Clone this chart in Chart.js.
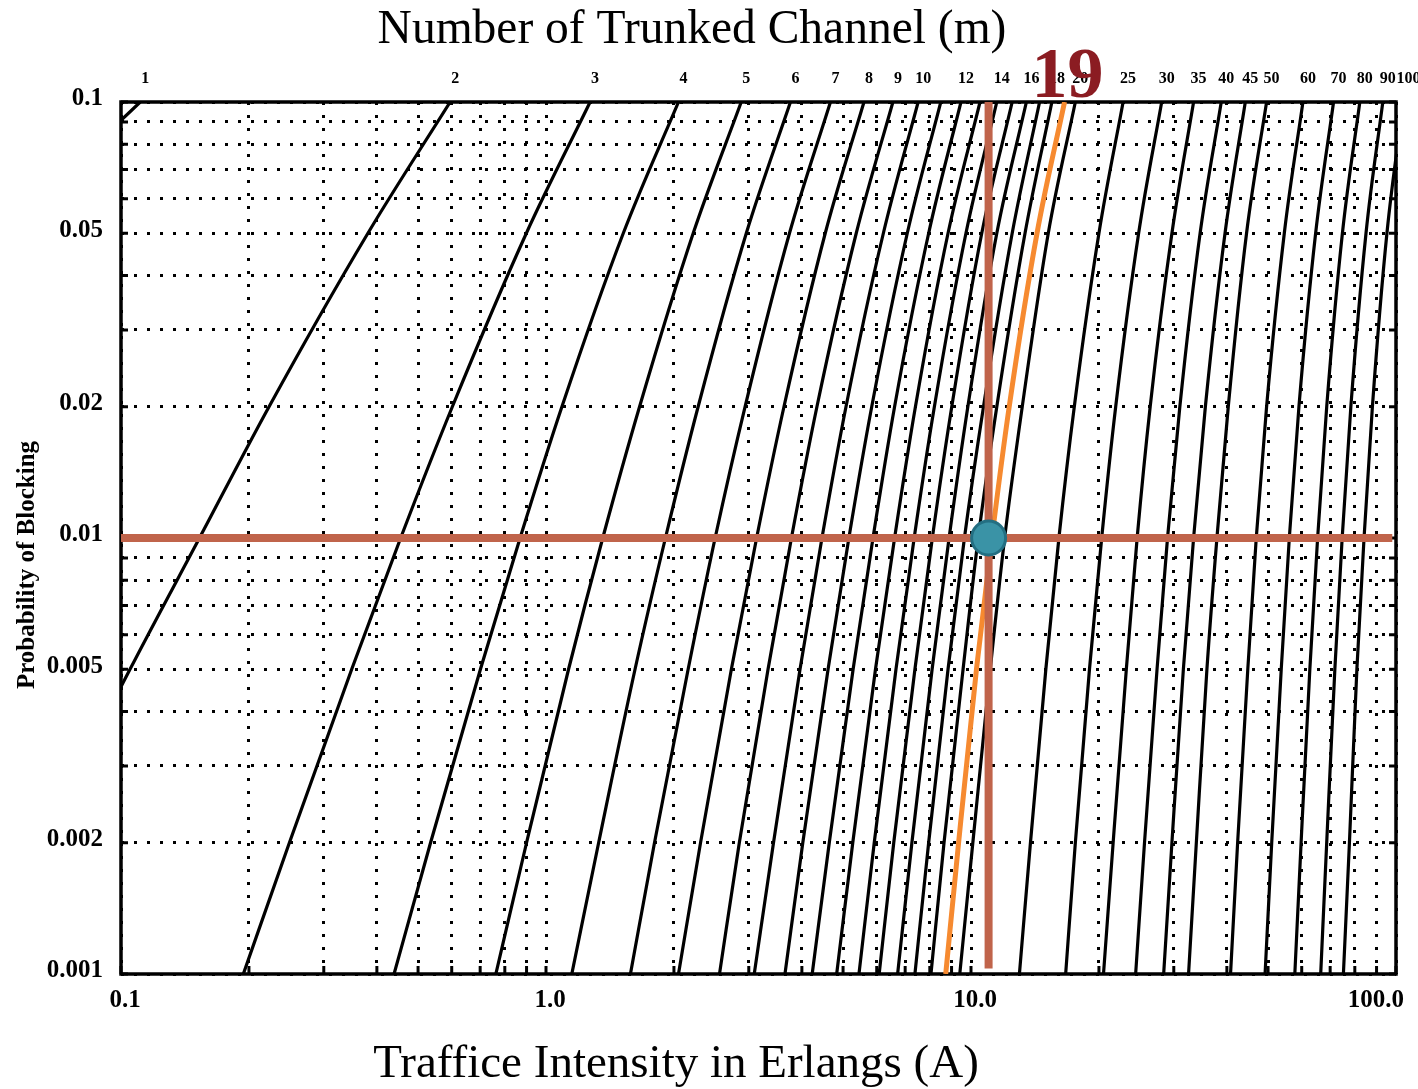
<!DOCTYPE html>
<html>
<head>
<meta charset="utf-8">
<script src="https://cdn.jsdelivr.net/npm/chart.js@4.4.1/dist/chart.umd.min.js"></script>
<style>
    html, body { margin: 0; padding: 0; background: #fff; }
    #wrap { width: 1418px; height: 1089px; }
</style>
</head>
<body>
<div id="wrap"><canvas id="erlang-chart" width="1418" height="1089"></canvas></div>
<script>
// blocking levels where the traffic of every curve was read
const blockLevels = [0.001, 0.002, 0.005, 0.01, 0.02, 0.05, 0.1];
const channels = [1, 2, 3, 4, 5, 6, 7, 8, 9, 10, 11, 12, 13, 14, 15, 16, 17, 18, 19, 20,
    25, 30, 35, 40, 45, 50, 60, 70, 80, 90, 100];
// traffic (erlangs) of each curve at the blockLevels above
const trafficByChannel = [
    [0.001, 0.002, 0.005, 0.0101, 0.0204, 0.0526, 0.111],
    [0.0458, 0.0653, 0.105, 0.153, 0.223, 0.381, 0.595],
    [0.194, 0.249, 0.349, 0.455, 0.602, 0.899, 1.27],
    [0.439, 0.535, 0.701, 0.869, 1.09, 1.52, 2.05],
    [0.762, 0.900, 1.13, 1.36, 1.66, 2.22, 2.88],
    [1.15, 1.33, 1.62, 1.91, 2.28, 2.96, 3.76],
    [1.58, 1.80, 2.16, 2.50, 2.94, 3.74, 4.67],
    [2.05, 2.31, 2.73, 3.13, 3.63, 4.54, 5.60],
    [2.56, 2.85, 3.33, 3.78, 4.34, 5.37, 6.55],
    [3.09, 3.43, 3.96, 4.46, 5.08, 6.22, 7.51],
    [3.65, 4.02, 4.61, 5.16, 5.84, 7.08, 8.49],
    [4.23, 4.64, 5.28, 5.88, 6.61, 7.95, 9.47],
    [4.83, 5.27, 5.96, 6.61, 7.40, 8.83, 10.5],
    [5.45, 5.92, 6.66, 7.35, 8.20, 9.73, 11.5],
    [6.08, 6.58, 7.38, 8.11, 9.01, 10.6, 12.5],
    [6.72, 7.26, 8.10, 8.88, 9.83, 11.5, 13.5],
    [7.38, 7.95, 8.83, 9.65, 10.7, 12.5, 14.5],
    [8.05, 8.64, 9.58, 10.4, 11.5, 13.4, 15.5],
    [8.72, 9.35, 10.3, 11.2, 12.3, 14.3, 16.6],
    [9.41, 10.1, 11.1, 12.0, 13.2, 15.2, 17.6],
    [13.0, 13.8, 15.0, 16.1, 17.5, 20.0, 22.8],
    [16.7, 17.6, 19.0, 20.3, 21.9, 24.8, 28.1],
    [20.5, 21.6, 23.2, 24.6, 26.4, 29.7, 33.4],
    [24.4, 25.6, 27.4, 29.0, 31.0, 34.6, 38.8],
    [28.4, 29.7, 31.6, 33.4, 35.6, 39.6, 44.2],
    [32.5, 33.9, 35.9, 37.9, 40.3, 44.5, 49.6],
    [40.8, 42.4, 44.8, 46.9, 49.6, 54.6, 60.4],
    [49.2, 51.0, 53.7, 56.1, 59.1, 64.7, 71.3],
    [57.8, 59.8, 62.7, 65.4, 68.7, 74.8, 82.2],
    [66.5, 68.7, 71.8, 74.7, 78.3, 85.0, 93.1],
    [75.2, 77.7, 80.9, 84.1, 88.0, 95.2, 104.1]
];
// channel numbers printed along the top
const labeledChannels = [1, 2, 3, 4, 5, 6, 7, 8, 9, 10, 12, 14, 16, 18, 20,
    25, 30, 35, 40, 45, 50, 60, 70, 80, 90, 100];

const xTickValues = [0.1, 1, 10, 100];
const xTickLabels = ['0.1', '1.0', '10.0', '100.0'];
const yTickValues = [0.1, 0.05, 0.02, 0.01, 0.005, 0.002, 0.001];
const yTickLabels = ['0.1', '0.05', '0.02', '0.01', '0.005', '0.002', '0.001'];
const xGridValues = [0.1, 0.2, 0.3, 0.4, 0.5, 0.6, 0.7, 0.8, 0.9,
    1, 2, 3, 4, 5, 6, 7, 8, 9, 10, 20, 30, 40, 50, 60, 70, 80, 90, 100];
const yGridValues = [0.001, 0.002, 0.003, 0.004, 0.005, 0.006, 0.007, 0.008, 0.009,
    0.01, 0.02, 0.03, 0.04, 0.05, 0.06, 0.07, 0.08, 0.09, 0.1];

// the worked example: 1% blocking, ~11 erlangs -> 19 channels
const pickedChannel = 19;
const pickedBlocking = 0.01;
const pickedTraffic = 11.0;
const guideTraffic = [0.1, 98];
const guideBlocking = [0.1, 0.00103];

document.addEventListener("DOMContentLoaded", () => {
    const serif = '"Liberation Serif", "Times New Roman", serif';
    const brown = '#c0644b';
    const orange = '#f68a30';

    const datasets = [];
    datasets.push({
        label: 'point',
        data: [{x: pickedTraffic, y: pickedBlocking}],
        backgroundColor: '#3a93a6',
        borderColor: '#246f82',
        borderWidth: 3,
        pointRadius: 17,
        showLine: false,
        order: 0
    });
    datasets.push({
        label: 'vertical guide',
        data: guideBlocking.map(b => ({x: pickedTraffic, y: b})),
        borderColor: brown, borderWidth: 8, pointRadius: 0, showLine: true, order: 1
    });
    datasets.push({
        label: 'horizontal guide',
        data: guideTraffic.map(a => ({x: a, y: pickedBlocking})),
        borderColor: brown, borderWidth: 8, pointRadius: 0, showLine: true, order: 2
    });
    channels.forEach((m, i) => {
        const hot = m === pickedChannel;
        datasets.push({
            label: 'm=' + m,
            data: trafficByChannel[i].map((a, j) => ({x: a, y: blockLevels[j]})),
            borderColor: hot ? orange : '#000',
            borderWidth: hot ? 5 : 3.2,
            pointRadius: 0,
            showLine: true,
            cubicInterpolationMode: 'monotone',
            order: hot ? 3 : 10
        });
    });

    const chartText = {
        id: 'chartText',
        beforeDatasetsDraw(chart) {
            const {ctx, chartArea: a, scales} = chart;
            ctx.save();
            ctx.strokeStyle = '#000';
            ctx.lineWidth = 3;
            // short solid ticks inside the frame
            xGridValues.forEach(v => {
                const px = scales.x.getPixelForValue(v);
                ctx.beginPath();
                ctx.moveTo(px, a.bottom);
                ctx.lineTo(px, a.bottom - 8);
                ctx.stroke();
            });
            yGridValues.forEach(v => {
                const py = scales.y.getPixelForValue(v);
                ctx.beginPath();
                ctx.moveTo(a.left, py);
                ctx.lineTo(a.left + 7, py);
                ctx.moveTo(a.right, py);
                ctx.lineTo(a.right - 7, py);
                ctx.stroke();
            });
            ctx.lineWidth = 3.5;
            ctx.strokeRect(a.left, a.top, a.right - a.left, a.bottom - a.top);
            ctx.restore();
        },
        afterDraw(chart) {
            const {ctx, chartArea: a, scales} = chart;
            ctx.save();
            ctx.fillStyle = '#000';

            // axis numbers
            ctx.font = 'bold 25px ' + serif;
            ctx.textBaseline = 'middle';
            ctx.textAlign = 'right';
            yTickValues.forEach((v, i) => {
                ctx.fillText(yTickLabels[i], a.left - 18, scales.y.getPixelForValue(v) - 3);
            });
            ctx.textAlign = 'center';
            xTickValues.forEach((v, i) => {
                let px = scales.x.getPixelForValue(v) + 4;
                const w = ctx.measureText(xTickLabels[i]).width;
                px = Math.min(px, 1404 - w / 2);
                ctx.fillText(xTickLabels[i], px, a.bottom + 27);
            });

            // channel numbers at the top, where each curve reaches 0.1
            ctx.font = 'bold 16px ' + serif;
            ctx.textBaseline = 'alphabetic';
            labeledChannels.forEach(m => {
                const row = trafficByChannel[channels.indexOf(m)];
                const px = scales.x.getPixelForValue(row[row.length - 1]) + 5;
                ctx.fillText(String(m), px, 83);
            });

            // titles
            ctx.font = '47.5px ' + serif;
            ctx.fillText('Number of Trunked Channel (m)', 692, 43);
            ctx.font = '47px ' + serif;
            ctx.fillText('Traffice Intensity in Erlangs (A)', 676, 1077);

            ctx.save();
            ctx.translate(34, 565);
            ctx.rotate(-Math.PI / 2);
            ctx.font = 'bold 25px ' + serif;
            ctx.fillText('Probability of Blocking', 0, 0);
            ctx.restore();

            // highlighted channel count
            const hotRow = trafficByChannel[channels.indexOf(pickedChannel)];
            ctx.font = 'bold 72px ' + serif;
            ctx.fillStyle = '#8b1c22';
            ctx.fillText(String(pickedChannel),
                scales.x.getPixelForValue(hotRow[hotRow.length - 1]) + 3, 97);
            ctx.restore();
        }
    };

    const ctx = document.getElementById("erlang-chart").getContext("2d");
    const erlangChart = new Chart(ctx, {
        type: 'scatter',
        data: {datasets: datasets},
        options: {
            responsive: false,
            animation: false,
            devicePixelRatio: 1,
            layout: {padding: {left: 121, top: 102, right: 22, bottom: 115}},
            plugins: {legend: {display: false}, tooltip: {enabled: false}},
            scales: {
                x: {
                    type: 'logarithmic', min: 0.1, max: 100,
                    afterBuildTicks: s => { s.ticks = xGridValues.map(v => ({value: v})); },
                    ticks: {display: false},
                    grid: {color: '#000', lineWidth: 3, drawTicks: false},
                    border: {display: false, dash: [3, 10]}
                },
                y: {
                    type: 'logarithmic', min: 0.001, max: 0.1,
                    afterBuildTicks: s => { s.ticks = yGridValues.map(v => ({value: v})); },
                    ticks: {display: false},
                    grid: {color: '#000', lineWidth: 3, drawTicks: false},
                    border: {display: false, dash: [3, 10]}
                }
            }
        },
        plugins: [chartText]
    });
});
</script>
</body>
</html>
